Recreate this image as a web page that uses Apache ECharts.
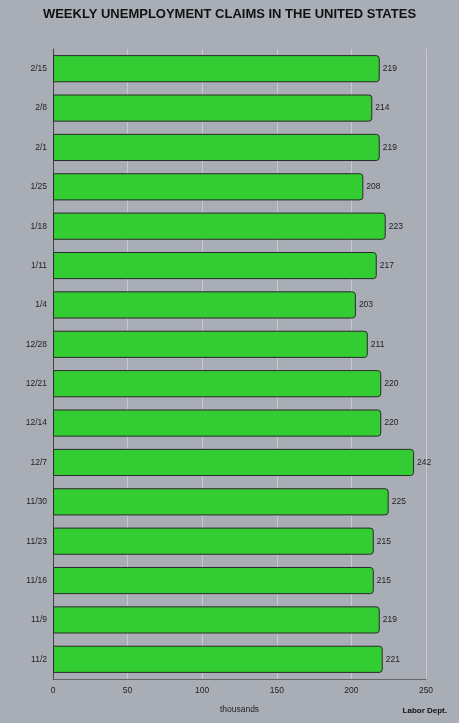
<!DOCTYPE html>
<html><head><meta charset="utf-8">
<script src="https://cdn.jsdelivr.net/npm/echarts@6/dist/echarts.min.js"></script>
<style>html,body{margin:0;padding:0;background:#a9aeb6}#c{width:459px;height:723px}</style>
</head><body><div id="c"></div>
<script>
const categories = ['11/2','11/9','11/16','11/23','11/30','12/7','12/14','12/21','12/28','1/4','1/11','1/18','1/25','2/1','2/8','2/15'];
const claims = [221,219,215,215,225,242,220,220,211,203,217,223,208,219,214,219];
const xTicks = [0,50,100,150,200,250];

const chart = echarts.init(document.getElementById('c'));
chart.setOption({
  backgroundColor:'#a9aeb6',
  animation:false,
  title:[{text:'WEEKLY UNEMPLOYMENT CLAIMS IN THE UNITED STATES',left:'center',top:3,
    textStyle:{fontFamily:'Liberation Sans, Arial',fontSize:13,fontWeight:'bold',color:'#111'}},
    {text:'Labor Dept.',right:7,bottom:3,textStyle:{fontFamily:'Liberation Sans, Arial',fontSize:8,fontWeight:'bold',color:'#111'}}],
  grid:{left:53,right:33,top:49,bottom:44,containLabel:false},
  xAxis:{type:'value',min:xTicks[0],max:xTicks[xTicks.length-1],interval:50,
    name:'thousands',nameLocation:'middle',nameGap:26,
    nameTextStyle:{fontFamily:'Liberation Sans, Arial',fontSize:8.5,color:'#222'},
    axisLine:{show:true,lineStyle:{color:'#666',width:1}},axisTick:{show:false},
    axisLabel:{fontFamily:'Liberation Sans, Arial',fontSize:8.5,color:'#222',margin:7},
    splitLine:{show:true,lineStyle:{color:'#c6cad0',width:1}}},
  yAxis:{type:'category',data:categories,
    axisLine:{show:true,lineStyle:{color:'#444',width:1}},axisTick:{show:false},
    axisLabel:{fontFamily:'Liberation Sans, Arial',fontSize:8.5,color:'#222',margin:6}},
  series:[{type:'bar',data:claims,barWidth:'69%',
    itemStyle:{color:'#33cc33',borderColor:'#2a2a2a',borderWidth:1,borderRadius:[0,3,3,0]},
    label:{show:true,position:'right',distance:3,fontFamily:'Liberation Sans, Arial',fontSize:8.5,color:'#222'}}]
});
</script></body></html>
